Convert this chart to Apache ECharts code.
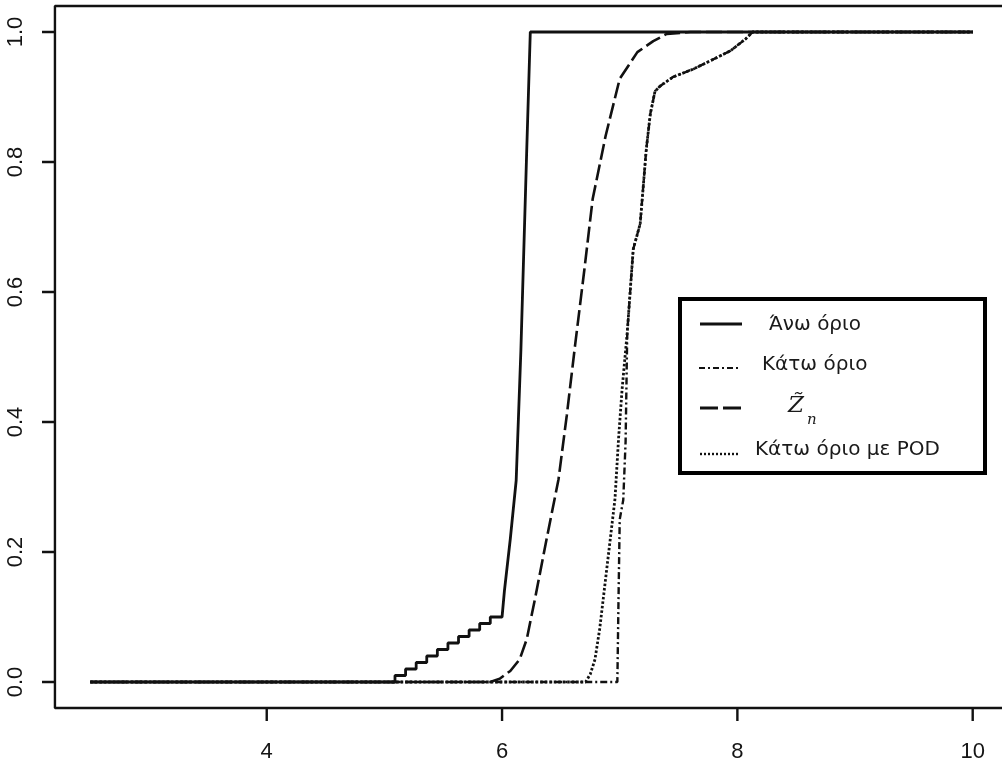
<!DOCTYPE html>
<html>
<head>
<meta charset="utf-8">
<script src="https://cdn.jsdelivr.net/npm/echarts@6/dist/echarts.min.js"></script>
<style>
  html, body { margin: 0; padding: 0; background: #fff; }
  #chart { width: 1002px; height: 769px; }
</style>
</head>
<body>
<div id="chart"></div>
<script>
// values
const xTicks = [4, 6, 8, 10]
const yTicks = [0, 0.2, 0.4, 0.6, 0.8, 1.0]
// plot box (R style 4% padding) and the outer end of the tick marks
const boxX = [2.2, 10.3]
const boxY = [-0.04, 1.04]
const tickEndX = 2.09
const tickEndY = -0.06

// Άνω όριο: flat, staircase, steep rise to 1
const upperBound = [
  [2.5, 0], [5.09, 0], [5.09, 0.01], [5.18, 0.01], [5.18, 0.02], [5.27, 0.02], [5.27, 0.03],
  [5.36, 0.03], [5.36, 0.04], [5.45, 0.04], [5.45, 0.05], [5.54, 0.05], [5.54, 0.06],
  [5.63, 0.06], [5.63, 0.07], [5.72, 0.07], [5.72, 0.08], [5.81, 0.08], [5.81, 0.09],
  [5.90, 0.09], [5.90, 0.10], [6.0, 0.10], [6.02, 0.14], [6.07, 0.22], [6.12, 0.31],
  [6.16, 0.51], [6.21, 0.82], [6.24, 1.0], [10.0, 1.0]
]

// Κάτω όριο: zero, then near-vertical rise, joins the POD curve
const lowerBound = [
  [2.5, 0], [6.98, 0], [6.99, 0.13], [7.0, 0.25], [7.03, 0.28], [7.05, 0.37], [7.064, 0.538],
  [7.115, 0.666], [7.174, 0.705], [7.226, 0.82], [7.26, 0.874], [7.30, 0.909], [7.345, 0.917],
  [7.455, 0.931], [7.626, 0.943], [7.796, 0.958], [7.94, 0.971], [8.068, 0.989], [8.13, 1.0],
  [10.0, 1.0]
]

// Z~n
const zTilde = [
  [2.5, 0], [5.90, 0], [5.98, 0.005], [6.07, 0.017], [6.15, 0.035], [6.21, 0.066],
  [6.28, 0.128], [6.37, 0.212], [6.48, 0.312], [6.55, 0.41], [6.62, 0.517], [6.70, 0.635],
  [6.77, 0.743], [6.88, 0.84], [7.0, 0.928], [7.15, 0.969], [7.285, 0.986], [7.40, 0.997],
  [7.6, 1.0], [10.0, 1.0]
]

// Κάτω όριο με POD
const lowerPOD = [
  [2.5, 0], [6.71, 0], [6.75, 0.012], [6.79, 0.035], [6.83, 0.082], [6.86, 0.128],
  [6.91, 0.205], [6.96, 0.282], [6.99, 0.374], [7.02, 0.45], [7.064, 0.538],
  [7.115, 0.666], [7.174, 0.705], [7.226, 0.82], [7.26, 0.874], [7.30, 0.909], [7.345, 0.917],
  [7.455, 0.931], [7.626, 0.943], [7.796, 0.958], [7.94, 0.971], [8.068, 0.989], [8.13, 1.0],
  [10.0, 1.0]
]

const legendNames = ['Άνω όριο', 'Κάτω όριο', 'Z̃n', 'Κάτω όριο με POD']

const chart = echarts.init(document.getElementById('chart'), null, { renderer: 'canvas' })

const axisFont = { color: '#151515', fontSize: 22, fontFamily: 'Liberation Sans, Arial, sans-serif' }
const legendFont = { fill: '#1a1a1a', fontSize: 20, fontFamily: 'DejaVu Sans, sans-serif' }

function lineSeries(name, data, type, width) {
  return {
    name,
    type: 'line',
    data,
    showSymbol: false,
    symbol: 'none',
    animation: false,
    lineStyle: { color: '#111', width, type },
    z: 3
  }
}

// frame as one polyline: top edge, left edge with tick excursions, bottom edge with tick excursions
const framePath = [[boxX[1], boxY[1]], [boxX[0], boxY[1]]]
yTicks.slice().reverse().forEach(v => {
  framePath.push([boxX[0], v], [tickEndX, v], [boxX[0], v])
})
framePath.push([boxX[0], boxY[0]])
xTicks.forEach(v => {
  framePath.push([v, boxY[0]], [v, tickEndY], [v, boxY[0]])
})
framePath.push([boxX[1], boxY[0]])

const frameSeries = {
  type: 'line',
  data: framePath,
  showSymbol: false,
  symbol: 'none',
  clip: false,
  silent: true,
  animation: false,
  lineStyle: { color: '#111', width: 2.4, join: 'bevel', cap: 'butt' },
  z: 4
}

chart.setOption({
  backgroundColor: '#ffffff',
  animation: false,
  grid: {
    left: 42, top: 6, right: -6, bottom: 48,
    show: false, containLabel: false, outerBoundsMode: 'none'
  },
  xAxis: {
    type: 'value', min: tickEndX, max: boxX[1], position: 'bottom',
    axisLine: { show: false, onZero: false },
    splitLine: { show: false },
    axisTick: { show: false },
    axisLabel: { ...axisFont, margin: 20, customValues: xTicks, formatter: v => String(v) }
  },
  yAxis: {
    type: 'value', min: tickEndY, max: boxY[1], position: 'left',
    axisLine: { show: false, onZero: false },
    splitLine: { show: false },
    axisTick: { show: false },
    axisLabel: { ...axisFont, margin: 15, rotate: 90, customValues: yTicks, formatter: v => v.toFixed(1) }
  },
  series: [
    lineSeries(legendNames[0], upperBound, 'solid', 2.8),
    lineSeries(legendNames[1], lowerBound, [7, 3, 2, 3], 2.4),
    lineSeries(legendNames[2], zTilde, [16, 5], 2.6),
    lineSeries(legendNames[3], lowerPOD, [2.5, 2], 2.8),
    frameSeries
  ],
  graphic: [
    {
      type: 'group', left: 678, top: 297, z: 10,
      children: [
        { type: 'rect', shape: { x: 0, y: 0, width: 305, height: 174 },
          style: { fill: '#fff', stroke: '#000', lineWidth: 4 } },
        // row samples
        { type: 'line', shape: { x1: 20, y1: 25, x2: 62, y2: 25 }, style: { stroke: '#111', lineWidth: 3 } },
        { type: 'line', shape: { x1: 19, y1: 69, x2: 59, y2: 69 }, style: { stroke: '#111', lineWidth: 2, lineDash: [6, 3, 2, 3] } },
        { type: 'line', shape: { x1: 20, y1: 109, x2: 62, y2: 109 }, style: { stroke: '#111', lineWidth: 3, lineDash: [18, 5] } },
        { type: 'line', shape: { x1: 20, y1: 155, x2: 60, y2: 155 }, style: { stroke: '#111', lineWidth: 2.4, lineDash: [2, 2] } },
        // row texts
        { type: 'text', style: { ...legendFont, text: legendNames[0], x: 89, y: 26, verticalAlign: 'middle' } },
        { type: 'text', style: { ...legendFont, text: legendNames[1], x: 82, y: 66, verticalAlign: 'middle' } },
        { type: 'text', style: { fill: '#1a1a1a', fontSize: 23, fontStyle: 'italic', fontFamily: 'DejaVu Serif, serif', text: 'Z\u0303', x: 108, y: 107, verticalAlign: 'middle' } },
        { type: 'text', style: { fill: '#1a1a1a', fontSize: 15, fontStyle: 'italic', fontFamily: 'DejaVu Serif, serif', text: 'n', x: 127, y: 121, verticalAlign: 'middle' } },
        { type: 'text', style: { ...legendFont, text: legendNames[3], x: 75, y: 151, verticalAlign: 'middle' } }
      ]
    }
  ]
})
</script>
</body>
</html>
